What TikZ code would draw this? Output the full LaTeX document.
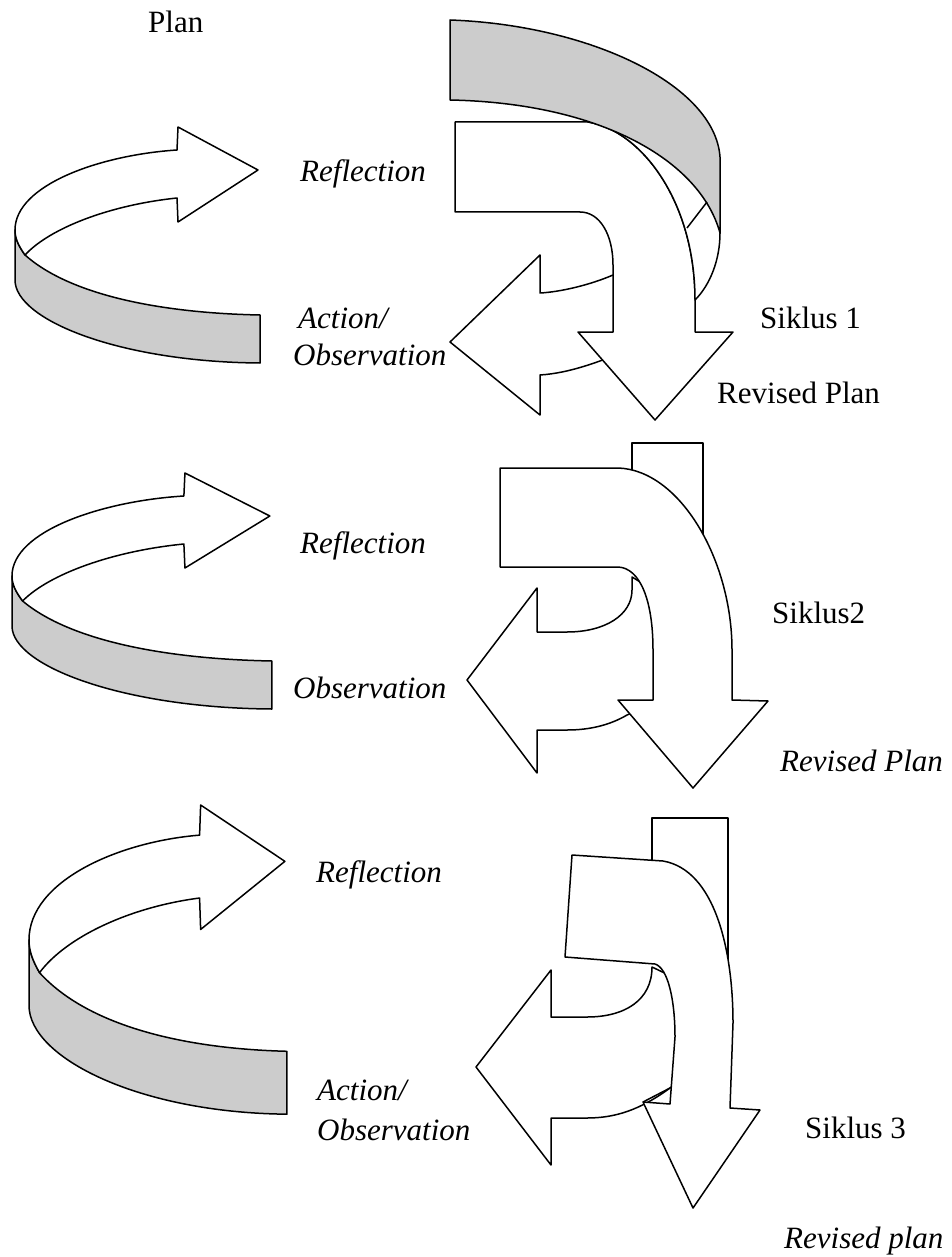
\documentclass[tikz,border=0pt]{standalone}
\usepackage{fontspec}
\setmainfont{Liberation Serif}
\tikzset{
  face/.style={draw, fill=white, line width=1.5pt, line join=round},
  band/.style={draw, fill=gray!40, line width=1.5pt, line join=round},
  lbl/.style={anchor=base west, inner sep=0pt, font=\fontsize{31}{36}\selectfont},
  ilbl/.style={lbl, font=\fontsize{31}{36}\selectfont\itshape},
}
% curved loop on the left, drawn in the coordinates of the first cycle
\newcommand{\loopshape}{%
  \draw[band] (15,230) -- (15,280) .. controls (15,320) and (120,362) .. (260,363)
    -- (260,315) .. controls (160,313) and (70,295) .. (25,255)
    .. controls (18,245) and (15,238) .. (15,230) -- cycle;
  \draw[face] (15,230) .. controls (15,185) and (100,155) .. (177,150) -- (178,127)
    -- (258,170) -- (178,222) -- (177,198) .. controls (110,205) and (50,228) .. (25,255)
    .. controls (18,245) and (15,238) .. (15,230) -- cycle;
}
\begin{document}
\begin{tikzpicture}[x=1pt, y=-1pt]
\useasboundingbox (0,0) rectangle (951,1257);

% left loops
\foreach \dx/\dy/\sx/\sy in {15/127/1/1, 12/473/1.061/1, 29/805/1.053/1.31}
{
  \begin{scope}[shift={(\dx,\dy)}, xscale=\sx, yscale=\sy, shift={(-15,-127)}]
    \loopshape
  \end{scope}
}

% cycle 1
\draw[face] (613,275) .. controls (590,285) and (560,292) .. (540,293) -- (540,255)
  -- (450,342) -- (540,415) -- (540,375) .. controls (570,373) and (600,362) .. (640,345)
  -- (640,300) -- cycle;
\draw[face] (455,122) -- (588,122) .. controls (640,130) and (695,200) .. (695,300)
  -- (695,332) -- (733,332) -- (655,420) -- (578,332) -- (613,332) -- (613,265)
  .. controls (613,235) and (600,212) .. (580,212) -- (455,212) -- cycle;
\draw[face] (588,122) -- (640,115) -- (720,180) -- (720,233)
  .. controls (720,260) and (710,285) .. (695,300)
  .. controls (695,200) and (640,130) .. (588,122) -- cycle;
\draw[band] (450,20) .. controls (590,25) and (715,85) .. (720,157) -- (720,233)
  .. controls (700,160) and (600,103) .. (450,100) -- cycle;
\draw[face] (707,202) -- (687,228);

% cycle 2
\draw[face] (632,443) rectangle (703,555);
\draw[face] (632,577) -- (632,590) .. controls (632,615) and (605,632) .. (567,632)
  -- (537,632) -- (537,588) -- (467,680) -- (537,773) -- (537,730) -- (567,730)
  .. controls (590,730) and (610,725) .. (627,715) -- (665,700) -- (670,600) -- cycle;
\draw[face] (500,468) -- (618,468) .. controls (680,470) and (732,560) .. (732,650)
  -- (732,700) -- (768,701) -- (693,788) -- (618,700) -- (653,700) -- (653,650)
  .. controls (653,600) and (640,568) .. (618,567) -- (500,567) -- cycle;

% cycle 3
\draw[face] (652,818) rectangle (728,960);
\draw[face] (652,967) .. controls (652,1000) and (625,1017) .. (587,1017) -- (551,1017)
  -- (551,970) -- (476,1067) -- (551,1165) -- (551,1118) -- (587,1118)
  .. controls (615,1118) and (640,1110) .. (670,1088) -- (700,1060) -- (700,990) -- cycle;
\draw[face] (572,855) -- (663,861) .. controls (715,870) and (733,950) .. (733,1023)
  -- (730,1108) -- (760,1110) -- (693,1208) -- (643,1102) -- (670,1104) -- (675,1037)
  .. controls (675,1000) and (668,968) .. (655,964) -- (565,957) -- cycle;
\draw[face] (643,1102) -- (670,1088);

% labels
\node[lbl] (plan) at (148,33) {Plan};
\foreach \x/\y [count=\i] in {300/182, 300/553, 316/882}
\node[ilbl] (refl-\i) at (\x,\y) {Reflection};
\node[ilbl] (act-1) at (298,328) {Action/};
\node[ilbl] (obs-1) at (293,365) {Observation};
\node[ilbl] (obs-2) at (293,698) {Observation};
\node[ilbl] (act-3) at (317,1100) {Action/};
\node[ilbl] (obs-3) at (317,1140) {Observation};
\node[lbl] (siklus-1) at (760,328) {Siklus 1};
\node[lbl] (siklus-2) at (772,623) {Siklus2};
\node[lbl] (siklus-3) at (805,1138) {Siklus 3};
\node[lbl] (rev-1) at (717,403) {Revised Plan};
\node[ilbl] (rev-2) at (780,771) {Revised Plan};
\node[ilbl] (rev-3) at (784,1248) {Revised plan};
\end{tikzpicture}
\end{document}
